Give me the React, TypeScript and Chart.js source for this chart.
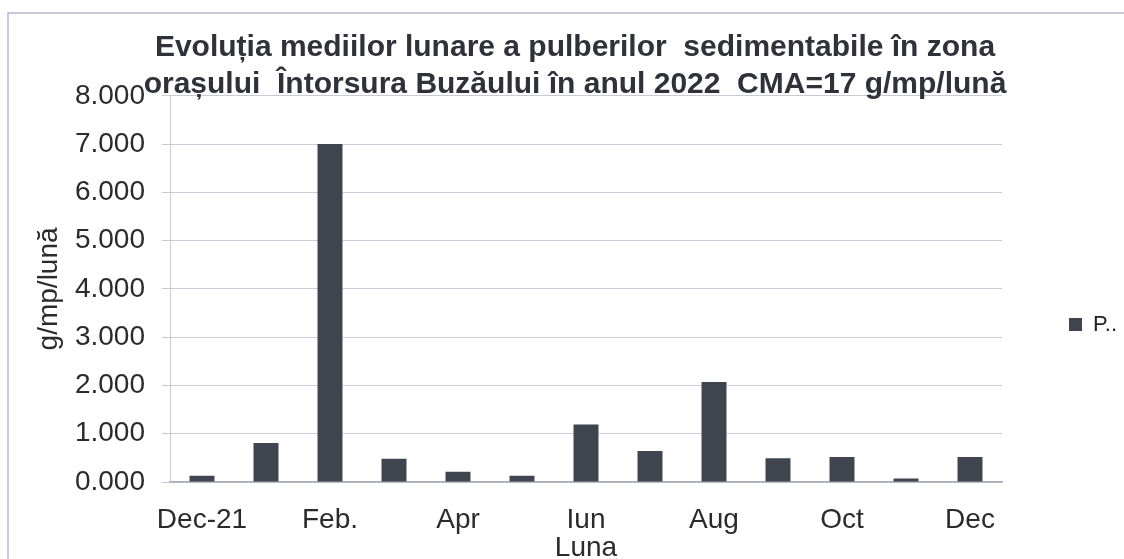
import React, { useEffect, useRef } from "react";
import { Chart, registerables } from "chart.js";

Chart.register(...registerables);

const categories = ["Dec-21", "Ian", "Feb.", "Mar", "Apr", "Mai", "Iun", "Iul", "Aug", "Sep", "Oct", "Noi", "Dec"];
const values = [0.13, 0.81, 7.0, 0.48, 0.21, 0.13, 1.19, 0.64, 2.07, 0.49, 0.52, 0.07, 0.52];
const seriesLabel = "P..";
const titleLines = [
  "Evoluția mediilor lunare a pulberilor  sedimentabile în zona",
  "orașului  Întorsura Buzăului în anul 2022  CMA=17 g/mp/lună",
];
const yAxisTitle = "g/mp/lună";
const xAxisTitle = "Luna";
const yMin = 0;
const yMax = 8;
const yStep = 1;

const FONT = "'Liberation Sans', Arial, sans-serif";

const framePlugin = {
  id: "frame",
  beforeDraw(chart: any) {
    const ctx = chart.ctx;
    ctx.save();
    ctx.strokeStyle = "#b4b8cc";
    ctx.lineWidth = 1.5;
    ctx.beginPath();
    ctx.moveTo(8, chart.height);
    ctx.lineTo(8, 13);
    ctx.lineTo(chart.width, 13);
    ctx.stroke();
    ctx.restore();
  },
};

export default function App() {
  const ref = useRef<HTMLCanvasElement | null>(null);
  useEffect(() => {
    if (!ref.current) return;
    const chart = new Chart(ref.current, {
      type: "bar",
      data: {
        labels: categories,
        datasets: [
          {
            label: seriesLabel,
            data: values,
            backgroundColor: "#40444f",
            borderWidth: 0,
            barPercentage: 0.39,
            categoryPercentage: 1.0,
          },
        ],
      },
      options: {
        responsive: false,
        animation: false,
        layout: { padding: { left: 26, right: 0, top: 0, bottom: 0 } },
        plugins: {
          title: {
            display: true,
            text: titleLines,
            color: "#30323a",
            font: { family: FONT, size: 30, weight: "bold", lineHeight: 1.23 },
            padding: { top: 29, bottom: -7 },
          },
          legend: {
            display: true,
            position: "right",
            maxWidth: 122,
            title: {
              display: true,
              text: " ",
              font: { family: FONT, size: 10, lineHeight: 1 },
              padding: 40,
            },
            labels: {
              color: "#222",
              font: { family: FONT, size: 22 },
              boxWidth: 13,
              boxHeight: 13,
              padding: 67,
            },
          },
          tooltip: { enabled: false },
        },
        scales: {
          x: {
            grid: { display: false },
            border: { display: true, color: "#a8abb8", width: 1.5 },
            ticks: {
              autoSkip: false,
              maxRotation: 0,
              color: "#2b2b2b",
              font: { family: FONT, size: 28 },
              padding: 13,
              callback: function (this: any, _v: any, i: number) {
                return i % 2 === 0 ? categories[i] : "";
              },
            },
            title: {
              display: true,
              text: xAxisTitle,
              color: "#2b2b2b",
              font: { family: FONT, size: 28, lineHeight: 1.2 },
              padding: { top: 0, bottom: -6 },
            },
            afterFit(scale: any) {
              scale.height = 77;
            },
          },
          y: {
            min: yMin,
            max: yMax,
            grid: { color: "#c8cad6", lineWidth: 1, tickLength: 8 },
            border: { display: true, color: "#c8cad6", width: 1 },
            ticks: {
              stepSize: yStep,
              color: "#2b2b2b",
              font: { family: FONT, size: 28 },
              padding: 17,
              callback: (v: any) => Number(v).toFixed(3),
            },
            title: {
              display: true,
              text: yAxisTitle,
              color: "#2b2b2b",
              font: { family: FONT, size: 28, lineHeight: 1.2 },
              padding: { top: 6, bottom: 0 },
            },
            afterFit(scale: any) {
              scale.width = 144;
            },
          },
        },
      },
      plugins: [framePlugin],
    } as any);
    return () => chart.destroy();
  }, []);
  return (
    <div style={{ position: "fixed", left: 0, top: 0, width: 1124, height: 559, background: "#fff" }}>
      <canvas ref={ref} width={1124} height={559} />
    </div>
  );
}
